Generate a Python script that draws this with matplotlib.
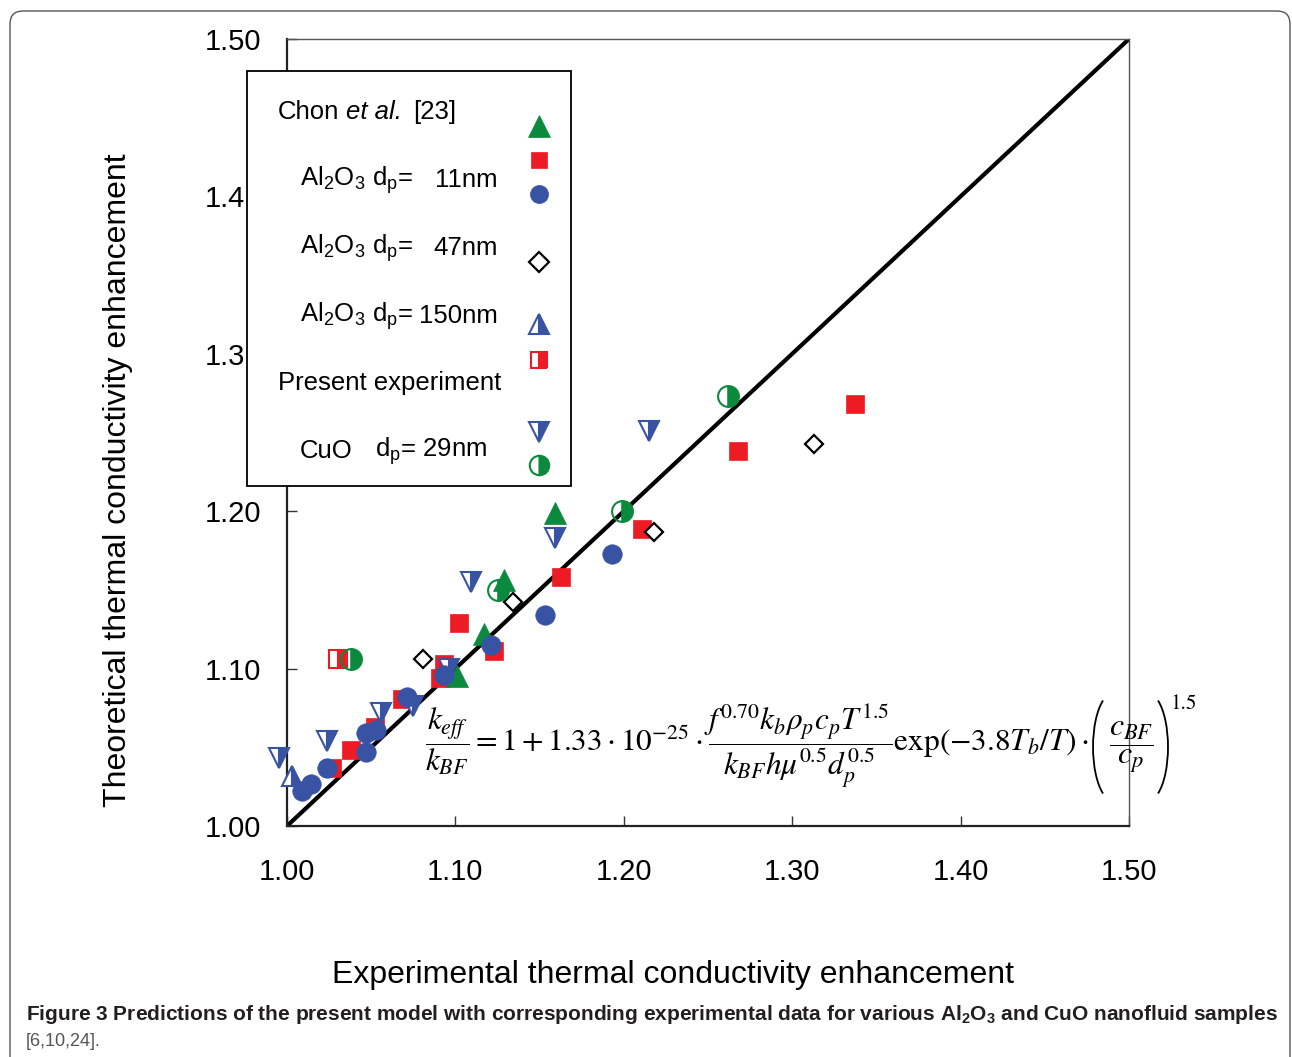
import matplotlib
matplotlib.use("Agg")
import numpy as np
import matplotlib.pyplot as plt
from matplotlib.patches import FancyBboxPatch, Rectangle, Arc
from matplotlib.lines import Line2D
from matplotlib.transforms import IdentityTransform

plt.rcParams['font.family'] = ['Liberation Sans', 'DejaVu Sans']
plt.rcParams['mathtext.fontset'] = 'custom'
plt.rcParams['mathtext.rm'] = 'Liberation Sans'
plt.rcParams['mathtext.it'] = 'Liberation Sans:italic'
plt.rcParams['mathtext.bf'] = 'Liberation Sans:bold'

# ---------------- data ----------------
chon11_x = [1.159, 1.129, 1.117, 1.101]
chon11_y = [1.199, 1.156, 1.122, 1.095]
chon47_x = [1.337, 1.268, 1.211, 1.163, 1.102, 1.123, 1.093, 1.091, 1.068, 1.052, 1.038, 1.027]
chon47_y = [1.268, 1.238, 1.189, 1.158, 1.129, 1.111, 1.103, 1.094, 1.081, 1.063, 1.048, 1.037]
chon150_x = [1.193, 1.153, 1.121, 1.093, 1.071, 1.047, 1.053, 1.047, 1.024, 1.014, 1.009]
chon150_y = [1.173, 1.134, 1.115, 1.096, 1.082, 1.059, 1.061, 1.047, 1.037, 1.027, 1.022]
diam_x = [1.313, 1.218, 1.134, 1.081]
diam_y = [1.243, 1.187, 1.142, 1.106]
half_up_x = [1.003]
half_up_y = [1.032]
half_sq_x = [1.030]
half_sq_y = [1.106]
half_down_x = [1.215, 1.159, 1.109, 1.096, 1.075, 1.056, 1.024, 0.995]
half_down_y = [1.251, 1.183, 1.155, 1.100, 1.076, 1.072, 1.054, 1.043]
half_circ_x = [1.262, 1.199, 1.125, 1.038]
half_circ_y = [1.273, 1.200, 1.150, 1.106]
line_xy = [1.0, 1.5]

xticks = [1.00, 1.10, 1.20, 1.30, 1.40, 1.50]
xticklabels = ['1.00', '1.10', '1.20', '1.30', '1.40', '1.50']
yticks = [1.00, 1.10, 1.20, 1.30, 1.40, 1.50]
yticklabels = ['1.00', '1.10', '1.20', '1.3', '1.4', '1.50']

GREEN = '#0b8a3e'
RED = '#ed1c24'
BLUE = '#3953a4'

W, H = 1292, 1057
fig = plt.figure(figsize=(W / 100, H / 100), dpi=100)
renderer = fig.canvas.get_renderer()

def fx(px):
    return px / W

def fy(py):
    return 1 - py / H

# outer rounded frame
frame = FancyBboxPatch((0.10, -0.5), 12.80, (H - 11) / 100 + 0.5,
                       boxstyle="round,pad=0,rounding_size=0.13",
                       transform=fig.dpi_scale_trans, fc='none', ec='#555555', lw=1.0)
fig.add_artist(frame)

ax = fig.add_axes([fx(287), fy(826), fx(1129) - fx(287), fy(39) - fy(826)])
ax.set_xlim(1.0, 1.5)
ax.set_ylim(1.0, 1.5)

ax.plot(line_xy, line_xy, color='black', lw=3.0, zorder=2, solid_capstyle='butt')

ax.plot(chon47_x, chon47_y, 's', ms=13.5, mfc=RED, mec=RED, mew=0.5, ls='none', zorder=3, clip_on=False)
ax.plot(chon11_x, chon11_y, '^', ms=16, mfc=GREEN, mec=GREEN, mew=0.5, ls='none', zorder=4, clip_on=False)
ax.plot(diam_x, diam_y, 'D', ms=9.5, mfc='white', mec='black', mew=1.6, ls='none', zorder=4, clip_on=False)
ax.plot(half_down_x, half_down_y, 'v', ms=15, mfc=BLUE, mec=BLUE, mew=1.5, fillstyle='right',
        markerfacecoloralt='white', ls='none', zorder=5, clip_on=False)
ax.plot(half_up_x, half_up_y, '^', ms=15, mfc=BLUE, mec=BLUE, mew=1.5, fillstyle='right',
        markerfacecoloralt='white', ls='none', zorder=5, clip_on=False)
ax.plot(half_sq_x, half_sq_y, 's', ms=12.5, mfc=RED, mec=RED, mew=1.5, fillstyle='right',
        markerfacecoloralt='white', ls='none', zorder=5, clip_on=False)
ax.plot(half_circ_x, half_circ_y, 'o', ms=15, mfc=GREEN, mec=GREEN, mew=1.5, fillstyle='right',
        markerfacecoloralt='none', ls='none', zorder=5, clip_on=False)
ax.plot(chon150_x, chon150_y, 'o', ms=14, mfc=BLUE, mec=BLUE, mew=0.5, ls='none', zorder=6, clip_on=False)

ax.set_xticks(xticks)
ax.set_xticklabels(xticklabels)
ax.set_yticks(yticks)
ax.set_yticklabels(yticklabels)
ax.tick_params(axis='both', direction='in', length=7.5, width=1.0, labelsize=21, color='#333333')
ax.tick_params(axis='x', pad=23)
ax.tick_params(axis='y', pad=59)
for lab in ax.get_yticklabels():
    lab.set_horizontalalignment('left')
for side in ['left', 'bottom']:
    ax.spines[side].set_linewidth(1.6)
    ax.spines[side].set_color('#222222')
for side in ['top', 'right']:
    ax.spines[side].set_linewidth(1.0)
    ax.spines[side].set_color('#555555')

# axis labels
fig.text(fx(673), fy(975), 'Experimental thermal conductivity enhancement', ha='center', va='center',
         fontsize=23)
fig.text(fx(118), fy(480), 'Theoretical thermal conductivity enhancement', ha='center', va='center',
         fontsize=23, rotation=90)

# legend box (drawn by hand, as in the original figure)
fig.add_artist(Rectangle((fx(247), fy(486)), fx(571) - fx(247), fy(71) - fy(486),
                         transform=fig.transFigure, fc='white', ec='black', lw=1.3, zorder=5))
lfs = 18.5
fig.text(fx(278), fy(112), 'Chon', ha='left', va='center', fontsize=lfs, zorder=6)
fig.text(fx(346), fy(112), 'et al.', ha='left', va='center', fontsize=lfs, style='italic', zorder=6)
fig.text(fx(413), fy(112), '[23]', ha='left', va='center', fontsize=lfs, zorder=6)
al = 'Al$_2$O$_3$ d$_\\mathrm{p}$='
for yy, num in [(180, '11nm'), (248, '47nm'), (316, '150nm')]:
    fig.text(fx(300), fy(yy), al, ha='left', va='center', fontsize=lfs, zorder=6)
    fig.text(fx(498), fy(yy), num, ha='right', va='center', fontsize=lfs, zorder=6)
fig.text(fx(278), fy(383), 'Present experiment', ha='left', va='center', fontsize=lfs, zorder=6)
fig.text(fx(300), fy(451), 'CuO', ha='left', va='center', fontsize=lfs, zorder=6)
fig.text(fx(375), fy(451), 'd$_\\mathrm{p}$= 29nm', ha='left', va='center', fontsize=lfs, zorder=6)

lx = fx(539)
leg_markers = [
    (126, dict(marker='^', ms=16, mfc=GREEN, mec=GREEN, mew=0.5)),
    (160, dict(marker='s', ms=12, mfc=RED, mec=RED, mew=0.5)),
    (194, dict(marker='o', ms=13, mfc=BLUE, mec=BLUE, mew=0.5)),
    (262, dict(marker='D', ms=10, mfc='white', mec='black', mew=1.6)),
    (324, dict(marker='^', ms=15, mfc=BLUE, mec=BLUE, mew=1.5, fillstyle='right', markerfacecoloralt='white')),
    (360, dict(marker='s', ms=12, mfc=RED, mec=RED, mew=1.5, fillstyle='right', markerfacecoloralt='white')),
    (432, dict(marker='v', ms=15, mfc=BLUE, mec=BLUE, mew=1.5, fillstyle='right', markerfacecoloralt='white')),
    (465, dict(marker='o', ms=14, mfc=GREEN, mec=GREEN, mew=1.5, fillstyle='right', markerfacecoloralt='white')),
]
for yy, kw in leg_markers:
    fig.add_artist(Line2D([lx], [fy(yy)], transform=fig.transFigure, ls='none', zorder=6, **kw))

# equation
eq_main = (r'$\dfrac{k_{eff}}{k_{BF}} = 1 + 1.33\cdot 10^{-25}\cdot'
           r'\dfrac{f^{0.70}k_b\rho_p c_p T^{1.5}}{k_{BF}h\mu^{0.5}d_p^{0.5}}'
           r'\mathrm{exp}\left(-3.8T_b/T\right)\cdot$')
eq_y = 747
t1 = fig.text(fx(425), fy(eq_y), eq_main, ha='left', va='center', fontsize=22.5,
              math_fontfamily='stix', zorder=7)
x_end = t1.get_window_extent(renderer).x1
yc_disp = H - eq_y
rx, ry = 20.0, 53.7
tpar = np.radians(60.0)
geo = np.degrees(np.arctan2(ry * np.sin(tpar), rx * np.cos(tpar)))
fig.add_artist(Arc((x_end + 4 + rx, yc_disp), 2 * rx, 2 * ry, theta1=180 - geo, theta2=180 + geo,
                   transform=IdentityTransform(), color='black', lw=1.3, zorder=7))
t2 = fig.text(fx(x_end + 20), fy(eq_y), r'$\dfrac{c_{BF}}{c_p}$', ha='left', va='center',
              fontsize=23, math_fontfamily='stix', zorder=7)
x_end2 = t2.get_window_extent(renderer).x1
fig.add_artist(Arc((x_end2 + 14 - rx, yc_disp), 2 * rx, 2 * ry, theta1=-geo, theta2=geo,
                   transform=IdentityTransform(), color='black', lw=1.3, zorder=7))
fig.text(fx(x_end2 + 17), fy(704), '1.5', ha='left', va='center', fontsize=15,
         family=['STIXGeneral', 'DejaVu Serif'], zorder=7)

# caption
fig.text(fx(26), fy(1015),
         r'Figure 3 Predictions of the present model with corresponding experimental data for various '
         r'Al$_\mathbf{2}$O$_\mathbf{3}$ and CuO nanofluid samples',
         ha='left', va='center', fontsize=15, fontweight='bold', color='#231f20')
fig.text(fx(26), fy(1042), '[6,10,24].', ha='left', va='center', fontsize=13, color='#555555')

fig.savefig('out.png', dpi=100)
